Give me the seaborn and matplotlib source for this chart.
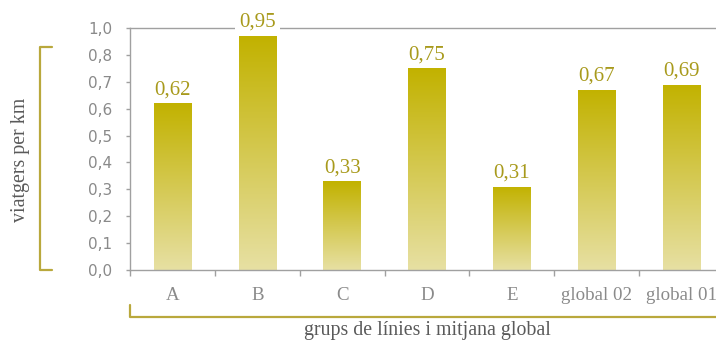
import numpy as np
import pandas as pd
import matplotlib
matplotlib.use("Agg")
import matplotlib.pyplot as plt
import seaborn as sns
from matplotlib.colors import LinearSegmentedColormap
from matplotlib.lines import Line2D

# ---------------- data ----------------
categories = ["A", "B", "C", "D", "E", "global 02", "global 01"]
values = [0.62, 0.95, 0.33, 0.75, 0.31, 0.67, 0.69]
value_labels = ["0,62", "0,95", "0,33", "0,75", "0,31", "0,67", "0,69"]
ytick_values = [0.0, 0.1, 0.2, 0.3, 0.4, 0.5, 0.6, 0.7, 0.8, 0.9]
ytick_labels = ["0,0", "0,1", "0,2", "0,3", "0,4", "0,5", "0,6", "0,7", "0,8", "1,0"]
y_label = "viatgers per km"
x_label = "grups de línies i mitjana global"

# ---------------- style ----------------
W, H, DPI = 716, 343, 100
Y_TOP = 0.9        # axis range top
BAR_CAP = 0.87     # visible cap for bars that run past the axis range
BAR_TOP_COLOR = "#c2b200"
BAR_BOTTOM_COLOR = "#e7e0a3"
LABEL_COLOR = "#a89a1c"
BRACKET_COLOR = "#b9a83c"
SPINE_COLOR = "#a0a0a0"
TICKLABEL_COLOR = "#8a8a8a"
TITLE_COLOR = "#5a5a5a"

sns.set_theme(style="white")
plt.rcParams["font.family"] = ["Liberation Serif", "DejaVu Serif"]

fig = plt.figure(figsize=(W / DPI, H / DPI), dpi=DPI)
ax = fig.add_axes([130 / W, (H - 270) / H, 594 / W, 242 / H])

df = pd.DataFrame({"grup": categories, "valor": values})
sns.barplot(data=df, x="grup", y="valor", order=categories, width=0.44,
            color=BAR_TOP_COLOR, saturation=1, ax=ax, errorbar=None)

xlim = (-0.5, len(categories) - 0.5)
ax.set_xlim(*xlim)
ax.set_ylim(0, Y_TOP)

cmap = LinearSegmentedColormap.from_list("olive", [BAR_BOTTOM_COLOR, BAR_TOP_COLOR])
grad = np.linspace(0, 1, 256).reshape(-1, 1)
for patch, lab in zip(ax.patches, value_labels):
    x0 = patch.get_x()
    w = patch.get_width()
    h = patch.get_height()
    top = min(h, BAR_CAP)
    patch.set_facecolor("none")
    patch.set_edgecolor("none")
    im = ax.imshow(grad, cmap=cmap, origin="lower", aspect="auto",
                   extent=(x0, x0 + w, 0, top), interpolation="bilinear", zorder=2)
    im.set_clip_path(patch)
    ax.annotate(lab, xy=(x0 + w / 2, top), xytext=(0, 6.5), textcoords="offset points",
                ha="center", va="baseline", fontsize=15, color=LABEL_COLOR,
                bbox=dict(boxstyle="square,pad=0.2", fc="white", ec="none"),
                zorder=6, annotation_clip=False)

ax.set_xlim(*xlim)
ax.set_ylim(0, Y_TOP)

# spines
for side in ["left", "bottom", "top"]:
    ax.spines[side].set_visible(True)
    ax.spines[side].set_color(SPINE_COLOR)
    ax.spines[side].set_linewidth(1)
ax.spines["right"].set_visible(False)

# y ticks
ax.set_yticks(ytick_values, labels=ytick_labels, fontfamily="DejaVu Sans")
ax.tick_params(axis="y", left=True, length=3, width=1, color=SPINE_COLOR,
               direction="out", pad=10, labelsize=11, labelcolor=TICKLABEL_COLOR)

# x ticks: labels at centers, marks at boundaries
ax.set_xticks(range(len(categories)), labels=categories)
ax.set_xticks(np.arange(-0.5, len(categories), 1), minor=True)
ax.tick_params(axis="x", which="major", bottom=False, length=0, pad=12,
               labelsize=13.6, labelcolor=TICKLABEL_COLOR)
ax.tick_params(axis="x", which="minor", bottom=True, length=4, width=1,
               color=SPINE_COLOR, direction="out")
ax.grid(False)

ax.set_ylabel("")
ax.set_xlabel(x_label, fontsize=14.3, color=TITLE_COLOR, va="top")
ax.xaxis.set_label_coords(0.5, -0.212)

fig.text(21 / W, (H - 159.5) / H, y_label, rotation=90, ha="center", va="center",
         fontsize=14.3, color=TITLE_COLOR)

# brackets
lw = 1.6
fig.add_artist(Line2D([52 / W, 40 / W, 40 / W, 52 / W],
                      [(H - 47) / H, (H - 47) / H, (H - 270) / H, (H - 270) / H],
                      transform=fig.transFigure, color=BRACKET_COLOR, lw=lw))
fig.add_artist(Line2D([130 / W, 130 / W, 1.0],
                      [(H - 305) / H, (H - 317) / H, (H - 317) / H],
                      transform=fig.transFigure, color=BRACKET_COLOR, lw=lw))

fig.savefig("out.png", dpi=DPI)
